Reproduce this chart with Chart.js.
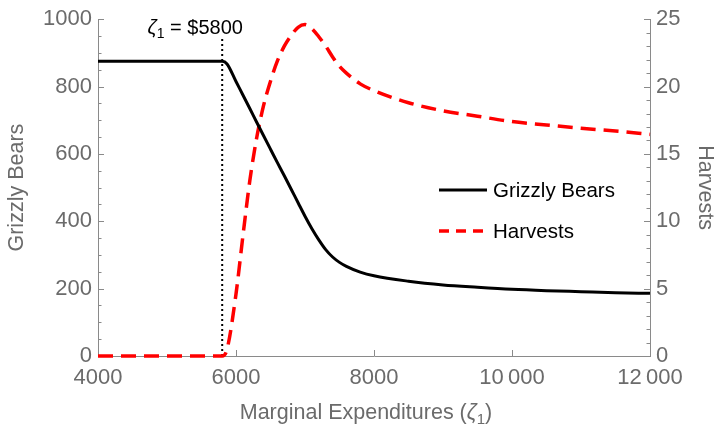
<!DOCTYPE html>
<html>
<head>
<meta charset="utf-8">
<script src="https://cdn.jsdelivr.net/npm/chart.js@4.4.1/dist/chart.umd.min.js"></script>
<style>
  html, body { margin: 0; padding: 0; background: #fff; }
  #wrap { width: 719px; height: 428px; }
</style>
</head>
<body>
<div id="wrap"><canvas id="chart" width="719" height="428"></canvas></div>
<script>
// marginal expenditures (x values)
const spend = [4000, 4500, 5000, 5500, 5800, 5870, 6000, 6100, 6200, 6300, 6400, 6500, 6600, 6700,
  6800, 6900, 7000, 7100, 7200, 7300, 7400, 7500, 7600, 7800, 8000, 8500, 9000, 9500, 10000, 10500,
  11000, 11500, 12000];
const bears = [875, 875, 875, 875, 875, 867, 815, 775, 735, 694, 654, 614, 574, 535,
  495, 455, 415, 378, 345, 316, 294, 278, 266, 249, 238, 222, 211, 204, 198, 194,
  191, 188, 186];
const harvests = [0, 0, 0, 0, 0, 0.5, 4.6, 8.9, 13.0, 16.2, 18.6, 20.4, 21.9, 23.0,
  23.8, 24.4, 24.6, 24.3, 23.7, 23.0, 22.2, 21.5, 21.0, 20.2, 19.7, 18.8, 18.2, 17.8, 17.4, 17.15,
  16.9, 16.7, 16.45];
const threshold = 5800;

const gray = '#6b6b6b';
const axisGray = '#8a8a8a';
const fontFam = '"Liberation Sans", Arial, sans-serif';

// draw text made of pieces: [text, italic, subscript]
function drawRich(ctx, parts, x, y, size, color, align) {
  let total = 0;
  parts.forEach(p => {
    ctx.font = (p[1] ? 'italic ' : '') + (p[2] ? size * 0.7 : size) + 'px ' + fontFam;
    total += ctx.measureText(p[0]).width;
  });
  let cx = align === 'center' ? x - total / 2 : x;
  ctx.fillStyle = color;
  ctx.textAlign = 'left';
  ctx.textBaseline = 'alphabetic';
  parts.forEach(p => {
    ctx.font = (p[1] ? 'italic ' : '') + (p[2] ? size * 0.7 : size) + 'px ' + fontFam;
    ctx.fillText(p[0], cx, p[2] ? y + size * 0.22 : y);
    cx += ctx.measureText(p[0]).width;
  });
}

const extras = {
  id: 'extras',
  beforeDatasetsDraw(chart) {
    const ctx = chart.ctx;
    const a = chart.chartArea;
    const sx = chart.scales.x, yl = chart.scales.y, yr = chart.scales.y1;
    ctx.save();
    ctx.strokeStyle = axisGray;
    ctx.lineWidth = 1;
    ctx.beginPath();
    for (let v = 0; v <= 1000; v += 50) {
      const py = Math.round(yl.getPixelForValue(v)) + 0.5;
      ctx.moveTo(a.left, py);
      ctx.lineTo(a.left + (v % 200 === 0 ? 6 : 3.5), py);
    }
    for (let v = 0; v <= 25; v += 1) {
      const py = Math.round(yr.getPixelForValue(v)) + 0.5;
      ctx.moveTo(a.right, py);
      ctx.lineTo(a.right - (v % 5 === 0 ? 6 : 3.5), py);
    }
    for (let v = 4000; v <= 12000; v += 2000) {
      const px = Math.round(sx.getPixelForValue(v)) + 0.5;
      ctx.moveTo(px, a.bottom);
      ctx.lineTo(px, a.bottom - 6);
    }
    ctx.stroke();

    // dotted threshold line
    const tx = sx.getPixelForValue(threshold);
    ctx.strokeStyle = '#000';
    ctx.lineWidth = 2;
    ctx.setLineDash([2, 3]);
    ctx.beginPath();
    ctx.moveTo(tx, a.bottom);
    ctx.lineTo(tx, 37);
    ctx.stroke();
    ctx.restore();
  },
  afterDraw(chart) {
    const ctx = chart.ctx;
    const tx = chart.scales.x.getPixelForValue(threshold);
    ctx.save();
    drawRich(ctx, [['ζ', true, false], ['1', false, true], [' = $5800', false, false]], tx - 27, 34, 20, '#000', 'center');
    drawRich(ctx, [['Marginal Expenditures (', false, false], ['ζ', true, false], ['1', false, true], [')', false, false]],
      (chart.chartArea.left + chart.chartArea.right) / 2 - 8, 419, 21.5, gray, 'center');

    // legend
    ctx.lineWidth = 3;
    ctx.strokeStyle = '#000';
    ctx.beginPath();
    ctx.moveTo(439, 190);
    ctx.lineTo(487, 190);
    ctx.stroke();
    ctx.strokeStyle = '#ff0000';
    ctx.lineWidth = 3.5;
    ctx.setLineDash([10, 7]);
    ctx.beginPath();
    ctx.moveTo(439, 231);
    ctx.lineTo(487, 231);
    ctx.stroke();
    ctx.setLineDash([]);
    ctx.font = '20.5px ' + fontFam;
    ctx.fillStyle = '#000';
    ctx.textAlign = 'left';
    ctx.textBaseline = 'middle';
    ctx.fillText('Grizzly Bears', 493, 191);
    ctx.fillText('Harvests', 493, 232);
    ctx.restore();
  }
};

const tickFont = { family: fontFam, size: 22 };
const titleFont = { family: fontFam, size: 21.5 };

new Chart(document.getElementById('chart'), {
  type: 'line',
  data: {
    datasets: [
      {
        label: 'Grizzly Bears',
        data: spend.map((x, i) => ({ x: x, y: bears[i] })),
        yAxisID: 'y',
        borderColor: '#000',
        borderWidth: 3,
        pointRadius: 0,
        cubicInterpolationMode: 'monotone',
        clip: false
      },
      {
        label: 'Harvests',
        data: spend.map((x, i) => ({ x: x, y: harvests[i] })),
        yAxisID: 'y1',
        borderColor: '#ff0000',
        borderWidth: 3.5,
        borderDash: [15, 8],
        pointRadius: 0,
        cubicInterpolationMode: 'monotone',
        clip: false
      }
    ]
  },
  options: {
    responsive: false,
    animation: false,
    layout: { padding: { top: 18, left: 0, right: 0, bottom: 0 } },
    plugins: { legend: { display: false }, tooltip: { enabled: false } },
    scales: {
      x: {
        type: 'linear',
        min: 4000, max: 12000,
        afterFit: s => { s.height = 72; },
        grid: { drawOnChartArea: false, drawTicks: false },
        border: { color: axisGray, width: 1 },
        ticks: {
          stepSize: 2000, color: gray, font: tickFont, padding: 9, maxRotation: 0,
          callback: v => v >= 10000 ? String(v).slice(0, 2) + '\u2009' + String(v).slice(2) : String(v)
        }
      },
      y: {
        position: 'left',
        min: 0, max: 1000,
        afterFit: s => { s.width = 98; },
        grid: { drawOnChartArea: false, drawTicks: false },
        border: { color: axisGray, width: 1 },
        ticks: { stepSize: 200, color: gray, font: tickFont, padding: 6, callback: v => String(v) },
        title: { display: true, text: 'Grizzly Bears', color: gray, font: titleFont, padding: 4 }
      },
      y1: {
        position: 'right',
        min: 0, max: 25,
        afterFit: s => { s.width = 69; },
        grid: { drawOnChartArea: false, drawTicks: false },
        border: { color: axisGray, width: 1 },
        ticks: { stepSize: 5, color: gray, font: tickFont, padding: 6, callback: v => String(v) },
        title: { display: true, text: 'Harvests', color: gray, font: titleFont, padding: 1 }
      }
    }
  },
  plugins: [extras]
});
</script>
</body>
</html>
